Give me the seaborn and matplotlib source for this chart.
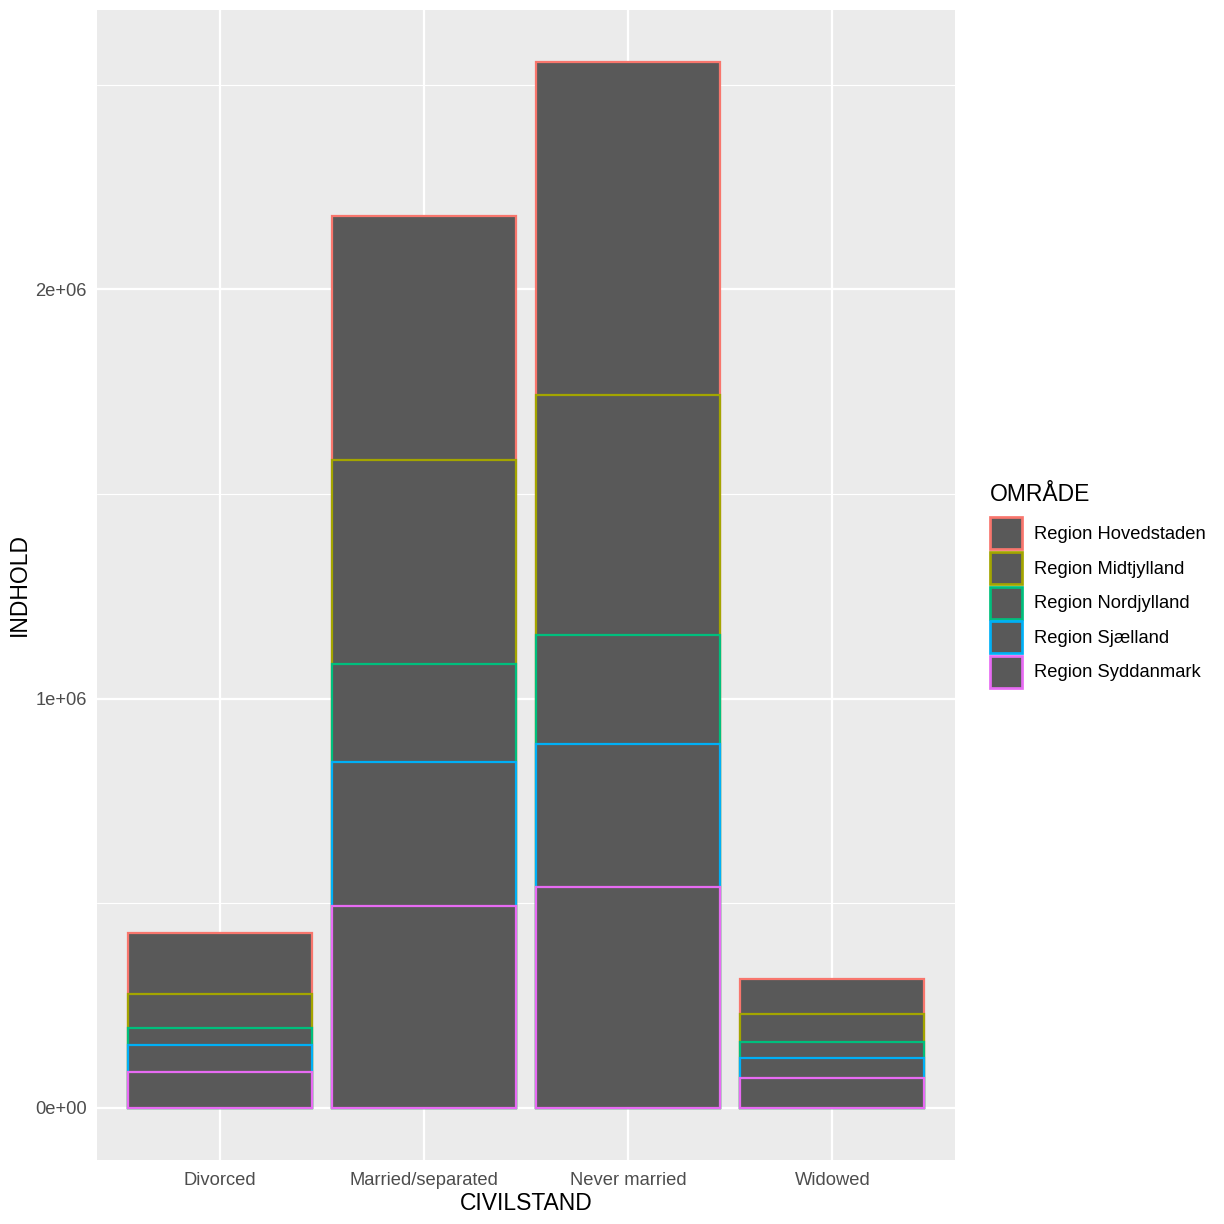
import matplotlib
matplotlib.use("Agg")
import matplotlib.pyplot as plt
import pandas as pd
import seaborn as sns
from matplotlib.patches import Patch
from matplotlib.ticker import FixedLocator

# Data (stacked, Syddanmark at the bottom)
categories = ["Divorced", "Married/separated", "Never married", "Widowed"]
regions = ["Region Hovedstaden", "Region Midtjylland", "Region Nordjylland",
           "Region Sjælland", "Region Syddanmark"]
hovedstaden = [149000, 596000, 812000, 85000]
midtjylland = [83000, 499000, 587000, 69000]
nordjylland = [42000, 240000, 266000, 39000]
sjaelland = [66000, 350000, 350000, 49000]
syddanmark = [88000, 494000, 540000, 73000]
region_colors = ["#F8766D", "#A3A500", "#00BF7D", "#00B0F6", "#E76BF3"]

values = [hovedstaden, midtjylland, nordjylland, sjaelland, syddanmark]
rows = []
for region, vals in zip(regions, values):
    for cat, v in zip(categories, vals):
        rows.append({"CIVILSTAND": cat, "OMRÅDE": region, "INDHOLD": v})
df = pd.DataFrame(rows)

# top of each segment = sum of its own value and every region below it
df["region_idx"] = df["OMRÅDE"].map({r: i for i, r in enumerate(regions)})
df = df.sort_values(["CIVILSTAND", "region_idx"], ascending=[True, False])
df["top"] = df.groupby("CIVILSTAND")["INDHOLD"].cumsum()

sns.set_theme(style="white")
plt.rcParams["font.family"] = ["Liberation Sans", "DejaVu Sans"]
plt.rcParams["text.color"] = "black"

dpi = 150
fig = plt.figure(figsize=(1224 / dpi, 1224 / dpi), dpi=dpi)
ax = fig.add_axes([97 / 1224, 1 - 1160 / 1224, (955 - 97) / 1224, 1150 / 1224])
ax.set_facecolor("#EBEBEB")

# tallest bar first, shorter ones over it -> looks like stacked segments
for region, color in zip(regions, region_colors):
    sub = df[df["OMRÅDE"] == region]
    sns.barplot(data=sub, x="CIVILSTAND", y="top", order=categories,
                color="#595959", saturation=1, edgecolor=color,
                linewidth=1.07, width=0.9, ax=ax, errorbar=None)

ymax = df.groupby("CIVILSTAND")["INDHOLD"].sum().max()
ax.set_ylim(-0.05 * ymax, 1.05 * ymax)
ax.set_xlim(-0.6, len(categories) - 0.4)

ax.set_yticks([0, 1e6, 2e6])
ax.set_yticklabels(["0e+00", "1e+06", "2e+06"])
ax.yaxis.set_minor_locator(FixedLocator([0.5e6, 1.5e6, 2.5e6]))
ax.set_axisbelow(True)
ax.grid(True, which="major", color="white", linewidth=1.07)
ax.grid(True, which="minor", axis="y", color="white", linewidth=0.53)
for s in ax.spines.values():
    s.set_visible(False)
ax.tick_params(which="major", length=2.75, width=1.07, color="#333333",
               labelcolor="#4D4D4D", labelsize=8.8, pad=2.2)
ax.tick_params(axis="x", which="major", pad=3)
ax.tick_params(which="minor", length=0)

ax.set_xlabel("CIVILSTAND", fontsize=11, color="black", labelpad=1.5)
ax.set_ylabel("INDHOLD", fontsize=11, color="black", labelpad=2)

handles = [Patch(facecolor="#595959", edgecolor=c, linewidth=1.3) for c in region_colors]
leg = fig.legend(handles, regions, title="OMRÅDE", loc="upper left",
                 bbox_to_anchor=(990 / 1224, 1 - 483 / 1224), frameon=False,
                 fontsize=8.8, title_fontsize=11, handlelength=1.75,
                 handleheight=2.31, labelspacing=0.14, handletextpad=0.65,
                 borderpad=0, borderaxespad=0, labelcolor="black")
leg.get_title().set_color("black")
leg._legend_box.align = "left"
leg._legend_box.sep = 5.5

fig.savefig("out.png", dpi=dpi)
